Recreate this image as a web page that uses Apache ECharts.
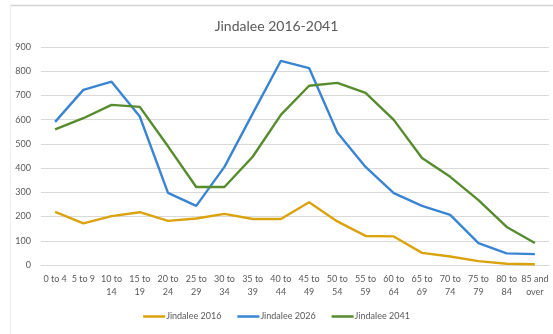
<!DOCTYPE html>
<html>
<head>
<meta charset="utf-8">
<title>Jindalee 2016-2041</title>
<script src="https://cdn.jsdelivr.net/npm/echarts@6/dist/echarts.min.js"></script>
<style>
  html, body { margin: 0; padding: 0; background: #ffffff; }
  #chart { width: 553px; height: 334px; }
</style>
</head>
<body>
<div id="chart"></div>
<script>
// Age groups (axis labels wrap like the spreadsheet layout)
const ageGroups = ['0 to 4', '5 to 9', '10 to\n14', '15 to\n19', '20 to\n24', '25 to\n29',
  '30 to\n34', '35 to\n39', '40 to\n44', '45 to\n49', '50 to\n54', '55 to\n59',
  '60 to\n64', '65 to\n69', '70 to\n74', '75 to\n79', '80 to\n84', '85 and\nover'];

// Population by age group
const pop2016 = [219, 172, 202, 218, 182, 192, 211, 190, 190, 259, 180, 120, 118, 50, 35, 16, 5, 3];
const pop2026 = [591, 723, 757, 613, 298, 244, 405, 625, 843, 813, 547, 405, 297, 244, 207, 90, 48, 45];
const pop2041 = [560, 606, 661, 653, 490, 322, 322, 447, 620, 740, 752, 711, 599, 442, 364, 268, 157, 91];

const seriesNames = ['Jindalee 2016', 'Jindalee 2026', 'Jindalee 2041'];
const seriesColors = ['#DAA30E', '#3A84D4', '#578C2E'];
const yTicks = { min: 0, max: 900, interval: 100 };

const chart = echarts.init(document.getElementById('chart'), null, { renderer: 'canvas' });

const textColor = '#595959';
const fontFamily = 'Lato, "Liberation Sans", sans-serif';

function lineSeries(name, data, color) {
  return {
    name: name,
    type: 'line',
    data: data,
    symbol: 'none',
    smooth: false,
    lineStyle: { color: color, width: 2.4 },
    itemStyle: { color: color },
    emphasis: { disabled: true }
  };
}

chart.setOption({
  animation: false,
  backgroundColor: '#ffffff',
  title: {
    text: 'Jindalee 2016-2041',
    left: 'center',
    top: 14,
    textStyle: { color: textColor, fontSize: 14, fontWeight: 'normal', fontFamily: fontFamily }
  },
  legend: {
    data: seriesNames,
    bottom: 8,
    left: 'center',
    icon: 'rect',
    itemWidth: 22,
    itemHeight: 2.5,
    itemGap: 16,
    textStyle: { color: textColor, fontSize: 9, fontFamily: fontFamily, padding: [0, 0, 0, -4] }
  },
  grid: { left: 41, right: 4, top: 47, bottom: 69, containLabel: false },
  xAxis: {
    type: 'category',
    data: ageGroups,
    boundaryGap: true,
    axisLine: { show: true, lineStyle: { color: '#d9d9d9', width: 1 } },
    axisTick: { show: false },
    axisLabel: {
      color: textColor, fontSize: 9, fontFamily: fontFamily,
      interval: 0, lineHeight: 13, margin: 8
    }
  },
  yAxis: {
    type: 'value',
    min: yTicks.min,
    max: yTicks.max,
    interval: yTicks.interval,
    axisLine: { show: false },
    axisTick: { show: false },
    splitLine: { lineStyle: { color: '#d9d9d9', width: 1 } },
    axisLabel: { color: textColor, fontSize: 9, fontFamily: fontFamily, margin: 10, align: 'right' }
  },
  graphic: [
    { type: 'line', shape: { x1: 10, y1: 5.5, x2: 553, y2: 5.5 }, style: { stroke: '#d4d4d4', lineWidth: 1.5 }, silent: true },
    { type: 'line', shape: { x1: 10.5, y1: 5, x2: 10.5, y2: 334 }, style: { stroke: '#eeeeee', lineWidth: 1 }, silent: true }
  ],
  series: [
    lineSeries(seriesNames[0], pop2016, seriesColors[0]),
    lineSeries(seriesNames[1], pop2026, seriesColors[1]),
    lineSeries(seriesNames[2], pop2041, seriesColors[2])
  ]
});
</script>
</body>
</html>
